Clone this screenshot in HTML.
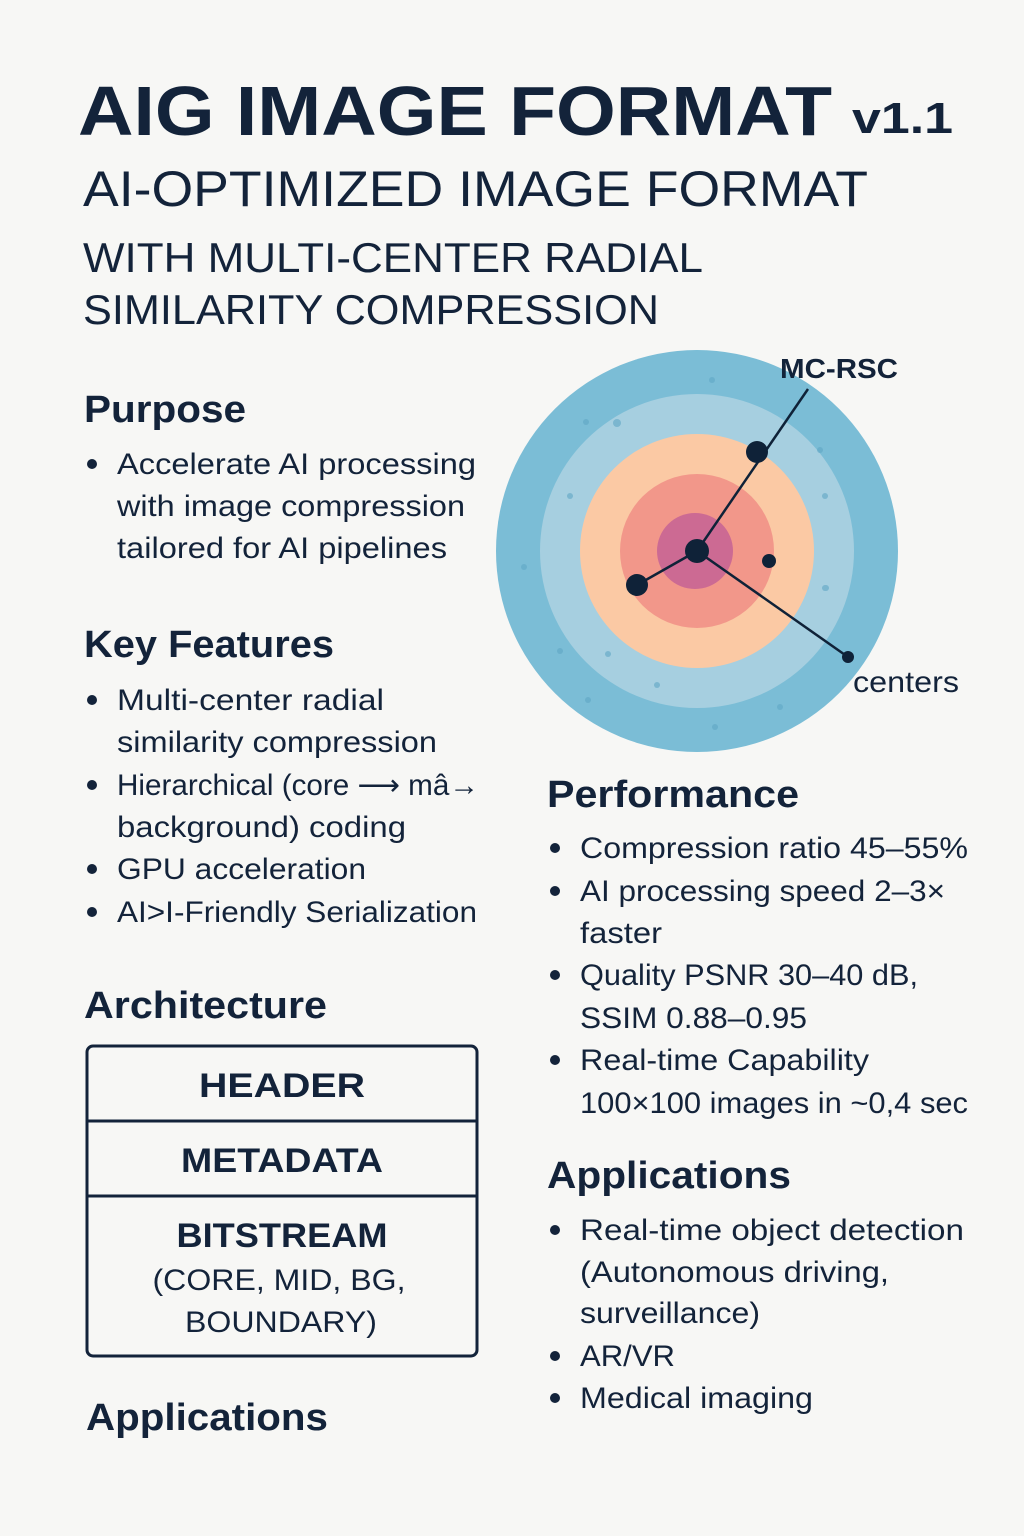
<!DOCTYPE html>
<html><head><meta charset="utf-8"><style>
html,body{margin:0;padding:0;background:#f7f7f5;}
svg{display:block;}
text{font-family:"Liberation Sans",sans-serif;fill:#13233a;}
.h{font-weight:bold;font-size:38px;}
.b{font-size:30px;}
</style></head><body>
<svg width="1024" height="1536" viewBox="0 0 1024 1536" xmlns="http://www.w3.org/2000/svg">
<rect width="1024" height="1536" fill="#f7f7f5"/>
<text x="78" y="135" font-size="70" font-weight="bold" textLength="754" lengthAdjust="spacingAndGlyphs">AIG IMAGE FORMAT</text>
<text x="852" y="133" font-size="44" font-weight="bold" textLength="101" lengthAdjust="spacingAndGlyphs">v1.1</text>
<text x="83" y="206" font-size="50" textLength="785" lengthAdjust="spacingAndGlyphs">AI-OPTIMIZED IMAGE FORMAT</text>
<text x="83" y="272" font-size="42" textLength="620" lengthAdjust="spacingAndGlyphs">WITH MULTI-CENTER RADIAL</text>
<text x="83" y="324" font-size="42" textLength="576" lengthAdjust="spacingAndGlyphs">SIMILARITY COMPRESSION</text>

<!-- circle -->
<circle cx="697" cy="551" r="201" fill="#7bbdd6"/>
<circle cx="697" cy="551" r="157" fill="#a6cfe0"/>
<circle cx="697" cy="551" r="117" fill="#fbc9a4"/>
<circle cx="697" cy="551" r="77" fill="#f2978a"/>
<circle cx="695" cy="551" r="38" fill="#cc6a93"/>
<g fill="#5fa6c4" opacity="0.6">
<circle cx="712" cy="380" r="3"/><circle cx="586" cy="422" r="3"/><circle cx="617" cy="423" r="4"/><circle cx="820" cy="450" r="3"/><circle cx="570" cy="496" r="3"/><circle cx="524" cy="567" r="3"/><circle cx="825" cy="496" r="3"/><circle cx="826" cy="588" r="3"/><circle cx="825" cy="588" r="3"/><circle cx="560" cy="651" r="3"/><circle cx="608" cy="654" r="3"/><circle cx="657" cy="685" r="3"/><circle cx="588" cy="700" r="3"/><circle cx="715" cy="727" r="3"/><circle cx="780" cy="707" r="3"/></g>
<g stroke="#0f2238" stroke-width="2.5" fill="none">
<line x1="697" y1="551" x2="808" y2="389"/>
<line x1="697" y1="551" x2="637" y2="585"/>
<line x1="697" y1="551" x2="848" y2="657"/>
</g>
<g fill="#0f2238">
<circle cx="697" cy="551" r="12"/><circle cx="757" cy="452" r="11"/><circle cx="637" cy="585" r="11"/><circle cx="769" cy="561" r="7"/><circle cx="848" cy="657" r="6"/>
</g>
<text x="780" y="378" font-size="28" font-weight="bold" textLength="118" lengthAdjust="spacingAndGlyphs">MC-RSC</text>
<text x="853" y="692" font-size="30" textLength="106" lengthAdjust="spacingAndGlyphs">centers</text>

<!-- left column -->
<text class="h" x="84" y="422" textLength="162" lengthAdjust="spacingAndGlyphs">Purpose</text>
<g fill="#13233a"><circle cx="92" cy="464" r="5"/></g>
<text class="b" x="117" y="474" textLength="359" lengthAdjust="spacingAndGlyphs">Accelerate AI processing</text>
<text class="b" x="117" y="516" textLength="348" lengthAdjust="spacingAndGlyphs">with image compression</text>
<text class="b" x="117" y="558" textLength="330" lengthAdjust="spacingAndGlyphs">tailored for AI pipelines</text>

<text class="h" x="84" y="657" textLength="250" lengthAdjust="spacingAndGlyphs">Key Features</text>
<g fill="#13233a"><circle cx="92" cy="700" r="5"/><circle cx="92" cy="785" r="5"/><circle cx="92" cy="869" r="5"/><circle cx="92" cy="912" r="5"/></g>
<text class="b" x="117" y="710" textLength="267" lengthAdjust="spacingAndGlyphs">Multi-center radial</text>
<text class="b" x="117" y="752" textLength="320" lengthAdjust="spacingAndGlyphs">similarity compression</text>
<text class="b" x="117" y="795" textLength="362" lengthAdjust="spacingAndGlyphs">Hierarchical (core ⟶ mâ→</text>
<text class="b" x="117" y="837" textLength="289" lengthAdjust="spacingAndGlyphs">background) coding</text>
<text class="b" x="117" y="879" textLength="249" lengthAdjust="spacingAndGlyphs">GPU acceleration</text>
<text class="b" x="117" y="922" textLength="360" lengthAdjust="spacingAndGlyphs">AI&gt;I-Friendly Serialization</text>

<text class="h" x="84" y="1018" textLength="243" lengthAdjust="spacingAndGlyphs">Architecture</text>
<rect x="87" y="1046" width="390" height="310" rx="6" fill="none" stroke="#13233a" stroke-width="3"/>
<line x1="87" y1="1121" x2="477" y2="1121" stroke="#13233a" stroke-width="3"/>
<line x1="87" y1="1196" x2="477" y2="1196" stroke="#13233a" stroke-width="3"/>
<text x="282" y="1097" text-anchor="middle" font-size="34" font-weight="bold" textLength="166" lengthAdjust="spacingAndGlyphs">HEADER</text>
<text x="282" y="1172" text-anchor="middle" font-size="34" font-weight="bold" textLength="202" lengthAdjust="spacingAndGlyphs">METADATA</text>
<text x="282" y="1247" text-anchor="middle" font-size="34" font-weight="bold" textLength="211" lengthAdjust="spacingAndGlyphs">BITSTREAM</text>
<text x="279" y="1290" text-anchor="middle" font-size="30" textLength="253" lengthAdjust="spacingAndGlyphs">(CORE, MID, BG,</text>
<text x="281" y="1332" text-anchor="middle" font-size="30" textLength="192" lengthAdjust="spacingAndGlyphs">BOUNDARY)</text>

<text class="h" x="86" y="1430" textLength="242" lengthAdjust="spacingAndGlyphs">Applications</text>

<!-- right column -->
<text class="h" x="547" y="807" textLength="252" lengthAdjust="spacingAndGlyphs">Performance</text>
<g fill="#13233a"><circle cx="555" cy="848" r="5"/><circle cx="555" cy="891" r="5"/><circle cx="555" cy="975" r="5"/><circle cx="555" cy="1060" r="5"/></g>
<text class="b" x="580" y="858" textLength="388" lengthAdjust="spacingAndGlyphs">Compression ratio 45–55%</text>
<text class="b" x="580" y="901" textLength="365" lengthAdjust="spacingAndGlyphs">AI processing speed 2–3×</text>
<text class="b" x="580" y="943" textLength="82" lengthAdjust="spacingAndGlyphs">faster</text>
<text class="b" x="580" y="985" textLength="338" lengthAdjust="spacingAndGlyphs">Quality PSNR 30–40 dB,</text>
<text class="b" x="580" y="1028" textLength="227" lengthAdjust="spacingAndGlyphs">SSIM 0.88–0.95</text>
<text class="b" x="580" y="1070" textLength="289" lengthAdjust="spacingAndGlyphs">Real-time Capability</text>
<text class="b" x="580" y="1113" textLength="388" lengthAdjust="spacingAndGlyphs">100×100 images in ~0,4 sec</text>

<text class="h" x="547" y="1188" textLength="244" lengthAdjust="spacingAndGlyphs">Applications</text>
<g fill="#13233a"><circle cx="555" cy="1230" r="5"/><circle cx="555" cy="1356" r="5"/><circle cx="555" cy="1398" r="5"/></g>
<text class="b" x="580" y="1240" textLength="384" lengthAdjust="spacingAndGlyphs">Real-time object detection</text>
<text class="b" x="580" y="1282" textLength="309" lengthAdjust="spacingAndGlyphs">(Autonomous driving,</text>
<text class="b" x="580" y="1323" textLength="180" lengthAdjust="spacingAndGlyphs">surveillance)</text>
<text class="b" x="580" y="1366" textLength="95" lengthAdjust="spacingAndGlyphs">AR/VR</text>
<text class="b" x="580" y="1408" textLength="233" lengthAdjust="spacingAndGlyphs">Medical imaging</text>
</svg>
</body></html>
